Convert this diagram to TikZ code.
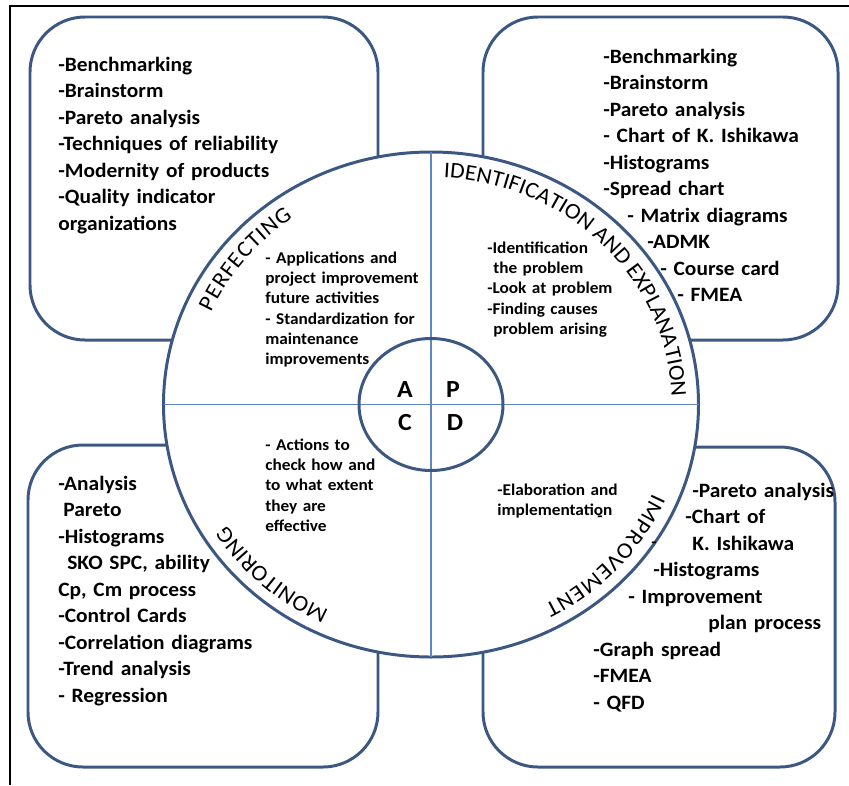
\documentclass[tikz,border=0pt]{standalone}
\usepackage{fontspec}
\setmainfont{Carlito}[FakeStretch=1.05]
\usetikzlibrary{decorations.text}
\definecolor{rimblue}{RGB}{60,88,130}
\definecolor{splitblue}{RGB}{95,135,192}
\newcommand{\listfont}{\fontsize{11.6}{15.1}\selectfont\bfseries}
\newcommand{\notefont}{\fontsize{9.35}{11.6}\selectfont\bfseries}
\newcommand{\arcfont}{\fontsize{12.8}{15}\selectfont}

\tikzset{
  toolbox/.style={draw=rimblue, line width=1.7pt, rounded corners=1.1cm},
  tools/.style={anchor=base west, inner sep=0pt, text width=7cm, align=left, font=\listfont},
  notes/.style={anchor=base west, inner sep=0pt, text width=4cm, align=left, font=\notefont},
  stray/.style={anchor=base, inner sep=0pt, font=\notefont},
  letter/.style={inner sep=0pt, font=\fontsize{14}{16}\selectfont\bfseries},
  arclabel/.style={decorate, decoration={text along path, text align={fit to path}, text={#1}}}
}

\begin{document}
\begin{tikzpicture}[x=0.02cm, y=0.02cm]
    \useasboundingbox (0,0) rectangle (849,-785);
    \draw[line width=1.2pt] (10,-785) -- (10,-6) -- (849,-6);
    % boxes with the tools of each stage
    \draw[toolbox] (30,-17) rectangle (378,-340);
    \draw[toolbox] (483,-17) rectangle (838,-340);
    \draw[toolbox] (28,-445) rectangle (378,-767);
    \draw[toolbox] (483,-447) rectangle (835,-767);
    % the wheel
    \coordinate (c) at (431,-404.5);
    \draw[rimblue, line width=1.7pt, fill=white] (c) ellipse [x radius=267.5, y radius=252.5];
    \draw[splitblue, line width=1.1pt] (c) ++(-267.5,0) -- ++(535,0);
    \draw[splitblue, line width=1.1pt] (c) ++(0,252.5) -- ++(0,-505);
    \draw[rimblue, line width=1.7pt] (c) ellipse [x radius=72, y radius=66];
    \node[letter] (act) at (405,-390) {A};
    \node[letter] (plan) at (453,-390) {P};
    \node[letter] (check) at (405,-423) {C};
    \node[letter] (do) at (455,-423) {D};
    % stage names round the rim
    \path[arclabel={|\arcfont|PERFECTING}] (c) ++(156:240.75 and 227.25)
        arc[start angle=156, end angle=125, x radius=240.75, y radius=227.25];
    \path[arclabel={|\arcfont|IDENTIFICATION AND EXPLANATION}] (c) ++(87:240.75 and 227.25)
        arc[start angle=87, end angle=2, x radius=240.75, y radius=227.25];
    \path[arclabel={|\arcfont|IMPROVEMENT}] (c) ++(-23:240.75 and 227.25)
        arc[start angle=-23, end angle=-62, x radius=240.75, y radius=227.25];
    \path[arclabel={|\arcfont|MONITORING}] (c) ++(-115:240.75 and 227.25)
        arc[start angle=-115, end angle=-148, x radius=240.75, y radius=227.25];
    % what is done in each quarter
    \node[notes] (act-notes) at (265,-263) {- Applications and\\project improvement\\future activities\\- Standardization for\\maintenance\\improvements};
    \node[notes] (plan-notes) at (487,-253) {-Identification\\\hspace*{0.12cm}the problem\\-Look at problem\\-Finding causes\\\hspace*{0.12cm}problem arising};
    \node[notes] (check-notes) at (265,-450) {- Actions to\\check how and\\to what extent\\they are\\effective};
    \node[notes] (do-notes) at (497,-495) {-Elaboration and\\implementation};
    \node[stray] (dash-a) at (600,-521) {-};
    \node[stray] (dash-b) at (654,-547) {-};
    % tool lists
    \node[tools] (act-tools) at (58,-71) {-Benchmarking\\-Brainstorm\\-Pareto analysis\\-Techniques of reliability\\-Modernity of products\\-Quality indicator\\organizations};
    \node[tools] (plan-tools) at (603,-63) {-Benchmarking\\-Brainstorm\\-Pareto analysis\\- Chart of K. Ishikawa\\-Histograms\\-Spread chart\\\hspace*{0.48cm}- Matrix diagrams\\\hspace*{0.88cm}-ADMK\\\hspace*{1.14cm}- Course card\\\hspace*{1.48cm}- FMEA};
    \node[tools] (check-tools) at (58,-490) {-Analysis\\\hspace*{0.1cm}Pareto\\-Histograms\\\hspace*{0.18cm}SKO SPC, ability\\Cp, Cm process\\-Control Cards\\-Correlation diagrams\\-Trend analysis\\- Regression};
    \node[tools] (do-tools) at (593,-497) {\hspace*{1.98cm}-Pareto analysis\\\hspace*{1.84cm}-Chart of\\\hspace*{1.98cm}K. Ishikawa\\\hspace*{1.2cm}-Histograms\\\hspace*{0.7cm}- Improvement\\\hspace*{2.3cm}plan process\\-Graph spread\\-FMEA\\- QFD};
\end{tikzpicture}
\end{document}
